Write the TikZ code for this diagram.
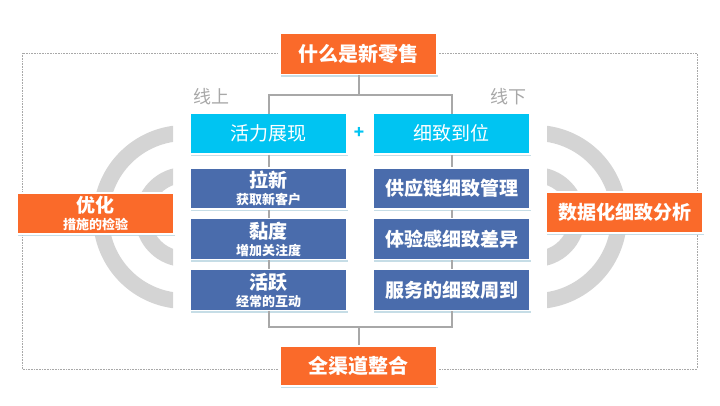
\documentclass[tikz,border=0pt]{standalone}
\usepackage{fontspec}
\newfontfamily\cjk{Noto Sans CJK SC}
\usepackage{xcolor}
\usetikzlibrary{positioning, calc, shadows}
\definecolor{chengse}{HTML}{FA6A2A}
\definecolor{qingse}{HTML}{00C4F2}
\definecolor{lanse}{HTML}{4A6CAC}
\definecolor{huixian}{HTML}{A8A8A8}
\definecolor{huihu}{HTML}{D4D4D4}
\definecolor{yinying}{HTML}{B8D4E0}
\tikzset{
  kuang/.style={draw=white, line width=1.2pt, inner sep=0pt, text=white, align=center,
    minimum width=157pt, minimum height=41pt,
    drop shadow={shadow xshift=0.6pt, shadow yshift=-2pt, fill=yinying, opacity=0.8}},
  chengkuang/.style={kuang, fill=chengse, font=\cjk\bfseries\fontsize{20}{22}\selectfont},
  qingkuang/.style={kuang, fill=qingse, font=\cjk\fontsize{19}{21}\selectfont},
  lankuang/.style={kuang, fill=lanse, font=\cjk\bfseries\fontsize{19}{21}\selectfont},
  lianxian/.style={draw=huixian, line width=2pt},
  biaoqian/.style={text=huixian, font=\cjk\fontsize{18}{20}\selectfont}
}
\newcommand{\liangxing}[2]{#1\\[-4pt]{\fontsize{13}{15}\selectfont #2}}

\begin{document}
\begin{tikzpicture}[x=1pt, y=-1pt]
    \useasboundingbox (0,0) rectangle (720,405);

    % --- OUTER DOTTED FRAME ---
    \draw[huixian, densely dotted, line width=0.6pt] (22,53) rectangle (697,369);

    % --- GRAY RINGS ---
    \begin{scope}
      \clip (0,0) rectangle (173,405);
      \draw[huihu, line width=16pt] (185,217) ++(90:84) arc[start angle=90, end angle=270, radius=84];
      \draw[huihu, line width=16pt] (185,217) ++(90:42) arc[start angle=90, end angle=270, radius=42];
    \end{scope}
    \begin{scope}
      \clip (547,0) rectangle (720,405);
      \draw[huihu, line width=16pt] (535,217) ++(90:84) arc[start angle=90, end angle=-90, radius=84];
      \draw[huihu, line width=16pt] (535,217) ++(90:42) arc[start angle=90, end angle=-90, radius=42];
    \end{scope}

    % --- TOP AND BOTTOM ---
    \node[chengkuang] (wenti)  at (358.5,54)  {什么是新零售};
    \node[chengkuang, minimum height=40pt] (zhenghe) at (358.5,366) {全渠道整合};

    % --- SIDE BOXES ---
    \node[chengkuang, font=\cjk\bfseries\fontsize{19}{21}\selectfont] (youhua) at (95.5,213.5) {\liangxing{优化}{措施的检验}};
    \node[chengkuang, font=\cjk\bfseries\fontsize{19}{21}\selectfont] (fenxi)  at (624.5,212.5) {数据化细致分析};

    % --- ONLINE COLUMN ---
    \node[qingkuang] (huoli)  at (268.5,133.5) {活力展现};
    \node[lankuang]  (laxin)  at (268.5,188.5) {\liangxing{拉新}{获取新客户}};
    \node[lankuang]  (niandu) at (268.5,239)   {\liangxing{黏度}{增加关注度}};
    \node[lankuang]  (huoyue) at (268.5,290)   {\liangxing{活跃}{经常的互动}};

    % --- OFFLINE COLUMN ---
    \node[qingkuang] (daowei) at (451.5,133.5) {细致到位};
    \node[lankuang]  (gongying) at (451.5,188.5) {供应链细致管理};
    \node[lankuang]  (tiyan)    at (451.5,239)   {体验感细致差异};
    \node[lankuang]  (fuwu)     at (451.5,290)   {服务的细致周到};

    % --- LABELS ---
    \node[biaoqian] (xianshang) at (211,97) {线上};
    \node[biaoqian] (xianxia)   at (508,97) {线下};
    \node[text=qingse, font=\cjk\bfseries\fontsize{17}{17}\selectfont] (jia) at (359,133) {+};

    % --- CONNECTORS ---
    \coordinate (shangcha) at (358.5,95);
    \coordinate (xiacha)   at (358.5,327);
    \draw[lianxian] (wenti.south) -- (shangcha);
    \draw[lianxian] (shangcha) -| ([yshift=-2pt]huoli.north);
    \draw[lianxian] (shangcha) -| ([yshift=-2pt]daowei.north);

    \draw[lianxian] (huoli.south)  -- (laxin.north);
    \draw[lianxian] (laxin.south)  -- (niandu.north);
    \draw[lianxian] (niandu.south) -- (huoyue.north);
    \draw[lianxian] (daowei.south)   -- (gongying.north);
    \draw[lianxian] (gongying.south) -- (tiyan.north);
    \draw[lianxian] (tiyan.south)    -- (fuwu.north);

    \draw[lianxian] (huoyue.south) |- (xiacha);
    \draw[lianxian] (fuwu.south)   |- (xiacha);
    \draw[lianxian] (xiacha) -- (zhenghe.north);

\end{tikzpicture}
\end{document}
